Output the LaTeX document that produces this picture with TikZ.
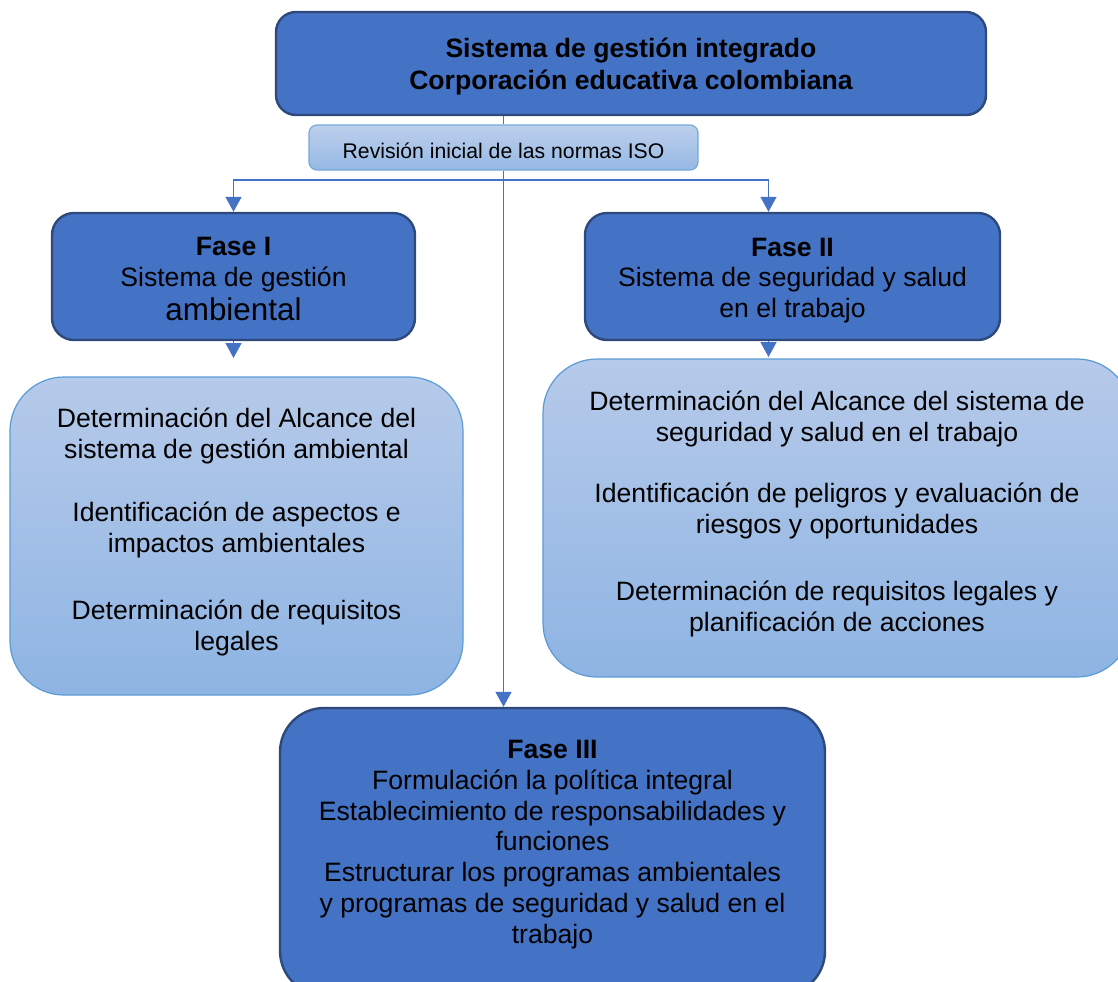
\documentclass[tikz,border=0pt]{standalone}
\usepackage{fontspec}
\setmainfont{Liberation Sans}
\usetikzlibrary{arrows.meta}
\definecolor{fase}{HTML}{4472C4}
\definecolor{faseborde}{HTML}{2E4A7D}
\definecolor{listaarriba}{HTML}{B6CAEA}
\definecolor{listaabajo}{HTML}{8EB4E3}
\definecolor{listaborde}{HTML}{5B9BD5}
\begin{document}
\begin{tikzpicture}
					[x=0.5pt,y=-0.5pt,
					every node/.style={align=center,inner sep=0pt,font=\fontsize{13.3}{15.5}\selectfont},
					fase/.style={draw=faseborde,line width=1.2pt,fill=fase,rounded corners=11pt,font=\fontsize{13.3}{16}\selectfont},
					lista/.style={draw=listaborde,line width=0.6pt,top color=listaarriba,bottom color=listaabajo,rounded corners=27pt,text depth=6.5pt},
					flecha/.style={draw=fase,line width=0.7pt,-{Triangle[width=8pt,length=7.5pt]}},
					linea/.style={draw=fase,line width=0.7pt},]
					\useasboundingbox (0,0) rectangle (1118,981);
					\node[fase,minimum width=355pt,minimum height=51.5pt,rounded corners=10pt,font=\fontsize{13.3}{16}\selectfont\bfseries,text depth=0pt] (sgi) at (631,63.5)
						{Sistema de gestión integrado\\Corporación educativa colombiana};
					\node[draw=listaborde!85,line width=0.6pt,top color=listaarriba!90,bottom color=listaabajo!80!listaarriba,rounded corners=4pt,minimum width=194.5pt,minimum height=22.5pt,font=\fontsize{10.6}{12}\selectfont] (rev) at (503.5,147.5)
						{\rule{0pt}{11.5pt}Revisión inicial de las normas ISO};
					\node[fase,minimum width=181.5pt,minimum height=63.5pt,font=\fontsize{13.3}{15.5}\selectfont] (f1) at (233.5,276.5)
						{\rule{0pt}{12pt}{\bfseries Fase I}\\Sistema de gestión\\[1.5pt]{\fontsize{15.7}{16}\selectfont ambiental}};
					\node[fase,minimum width=207.5pt,minimum height=63.5pt,font=\fontsize{13.3}{15.25}\selectfont] (f2) at (792.5,276.5)
						{\rule{0pt}{12.8pt}{\bfseries Fase II}\\Sistema de seguridad y salud\\en el trabajo};
					\node[lista,minimum width=226.5pt,minimum height=159pt] (l1) at (236.5,536)
						{Determinación del Alcance del\\sistema de gestión ambiental\\[16pt]
						Identificación de aspectos e\\impactos ambientales\\[18pt]
						Determinación de requisitos\\legales};
					\node[lista,minimum width=294pt,minimum height=159pt] (l2) at (837,518)
						{Determinación del Alcance del sistema de\\seguridad y salud en el trabajo\\[15pt]
						Identificación de peligros y evaluación de\\riesgos y oportunidades\\[18pt]
						Determinación de requisitos legales y\\planificación de acciones};
					\node[fase,minimum width=272.5pt,minimum height=143.5pt,rounded corners=22pt,font=\fontsize{13.3}{15.4}\selectfont,text depth=9.8pt] (f3) at (552.5,851.5)
						{{\bfseries Fase III}\\Formulación la política integral\\Establecimiento de responsabilidades y\\funciones\\
						Estructurar los programas ambientales\\y programas de seguridad y salud en el\\trabajo};
					\coordinate (ramal) at (503.5,180);
					\coordinate (p1) at (233.5,358);
					\coordinate (p2) at (768.5,357);
					\draw[linea] (sgi.south -| rev.north) -- (rev.north);
					\draw[flecha] (rev.south) -- (rev.south |- f3.north);
					\draw[flecha] (ramal) -| (f1.north);
					\draw[flecha] (ramal) -| ([xshift=-12pt]f2.north);
					\draw[flecha] (f1.south) -- (p1);
					\draw[flecha] ([xshift=-12pt]f2.south) -- (p2);
				\end{tikzpicture}
\end{document}
